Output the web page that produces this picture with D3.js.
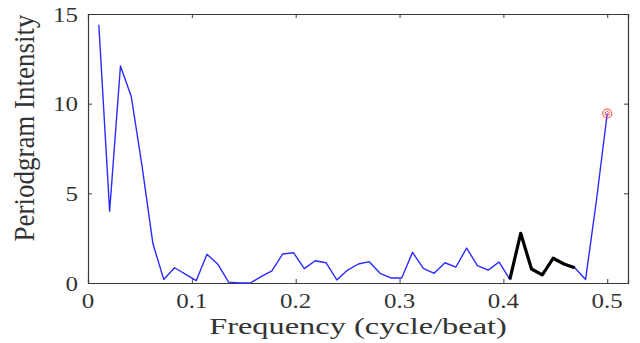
<!DOCTYPE html>
<html>
<head>
<meta charset="utf-8">
<script src="https://cdn.jsdelivr.net/npm/d3@7"></script>
<style>
  body { margin: 0; background: #fff; }
  svg { display: block; }
</style>
</head>
<body>
<div id="chart"></div>
<script>
// periodogram values, one per frequency bin k/96 (k = 1..48)
const binCount = 96;
const intensity = [
  14.4, 4.0, 12.1, 10.4, 6.5, 2.2, 0.2, 0.85, 0.5, 0.13,
  1.6, 1.05, 0.05, 0.0, 0.0, 0.35, 0.68, 1.62, 1.69, 0.8,
  1.24, 1.13, 0.17, 0.72, 1.06, 1.19, 0.54, 0.28, 0.28, 1.71,
  0.82, 0.54, 1.13, 0.88, 1.95, 0.97, 0.72, 1.17, 0.2, 2.77,
  0.78, 0.45, 1.38, 1.06, 0.85, 0.2, 4.6, 9.45
];
const frequency = intensity.map((d, i) => (i + 1) / binCount);

// highlighted band (bins 39..45) and the peak marker (bin 48)
const bandStart = 39;
const bandEnd = 45;
const markerBin = 48;

const xTicks = [0, 0.1, 0.2, 0.3, 0.4, 0.5];
const yTicks = [0, 5, 10, 15];
const xLabel = 'Frequency (cycle/beat)';
const yLabel = 'Periodgram Intensity';

const width = 640;
const height = 343;
const margin = { top: 14, right: 12, bottom: 60, left: 88 };
const innerW = width - margin.left - margin.right;
const innerH = height - margin.top - margin.bottom;

const points = frequency.map((f, i) => ({ k: i + 1, f: f, v: intensity[i] }));

const x = d3.scaleLinear().domain([0, 0.52]).range([0, innerW]);
const y = d3.scaleLinear().domain([0, 15]).range([innerH, 0]);

const svg = d3
  .select('#chart')
  .append('svg')
  .attr('width', width)
  .attr('height', height);

const g = svg
  .append('g')
  .attr('transform', 'translate(' + margin.left + ',' + margin.top + ')');

const axisColor = '#3a3a3a';
const textColor = '#333';
const serif = '"Liberation Serif", "Times New Roman", serif';
// the source figure is stretched sideways, so text gets a horizontal scale
const stretch = 1.25;

// axes: ticks point inward, like a boxed matlab plot
const xAxis = g
  .append('g')
  .attr('transform', 'translate(0,' + innerH + ')')
  .call(d3.axisBottom(x).tickValues(xTicks).tickSize(-4).tickFormat(''));

const xTop = g
  .append('g')
  .call(d3.axisTop(x).tickValues(xTicks).tickSize(-4).tickFormat(''));

const yAxis = g
  .append('g')
  .call(d3.axisLeft(y).tickValues(yTicks).tickSize(-4).tickFormat(''));

const yRight = g
  .append('g')
  .attr('transform', 'translate(' + innerW + ',0)')
  .call(d3.axisRight(y).tickValues(yTicks).tickSize(-4).tickFormat(''));

[xAxis, xTop, yAxis, yRight].forEach((a) => {
  a.select('.domain').attr('stroke', axisColor).attr('stroke-width', 1.2);
  a.selectAll('.tick line').attr('stroke', axisColor);
});

// tick labels, drawn by hand so they can carry the stretch
g.selectAll('.xlab')
  .data(xTicks)
  .join('text')
  .attr('class', 'xlab')
  .attr('transform', (d) => 'translate(' + x(d) + ',' + (innerH + 25) + ') scale(' + stretch + ',1)')
  .attr('text-anchor', 'middle')
  .attr('fill', textColor)
  .style('font-family', serif)
  .style('font-size', '20px')
  .text((d) => d3.format('')(d));

g.selectAll('.ylab')
  .data(yTicks)
  .join('text')
  .attr('class', 'ylab')
  .attr('transform', (d) => 'translate(-10,' + (y(d) + 7.5) + ') scale(' + stretch + ',1)')
  .attr('text-anchor', 'end')
  .attr('fill', textColor)
  .style('font-family', serif)
  .style('font-size', '20px')
  .text((d) => d);

// main blue spectrum
const line = d3
  .line()
  .x((d) => x(d.f))
  .y((d) => y(d.v));

g.append('path')
  .datum(points)
  .attr('fill', 'none')
  .attr('stroke', '#2b2bff')
  .attr('stroke-width', 1.4)
  .attr('stroke-linejoin', 'round')
  .attr('d', line);

// thick black band on top
g.append('path')
  .datum(points.filter((d) => d.k >= bandStart && d.k <= bandEnd))
  .attr('fill', 'none')
  .attr('stroke', '#000')
  .attr('stroke-width', 3.2)
  .attr('stroke-linejoin', 'round')
  .attr('d', line);

// red marker at the last bin
const mk = points.find((d) => d.k === markerBin);
g.append('circle')
  .attr('cx', x(mk.f))
  .attr('cy', y(mk.v))
  .attr('r', 4.5)
  .attr('fill', 'none')
  .attr('stroke', '#ff4d4d')
  .attr('stroke-width', 1.1);
g.append('circle')
  .attr('cx', x(mk.f))
  .attr('cy', y(mk.v))
  .attr('r', 2)
  .attr('fill', 'none')
  .attr('stroke', '#ff4d4d')
  .attr('stroke-width', 1);

// axis titles
svg
  .append('text')
  .text(xLabel)
  .attr('transform', 'translate(' + (margin.left + innerW / 2) + ',334) scale(1.35,1)')
  .attr('text-anchor', 'middle')
  .attr('fill', textColor)
  .style('font-family', serif)
  .style('font-size', '24px');

svg
  .append('text')
  .text(yLabel)
  .attr('transform', 'translate(34,128) scale(1.12,1) rotate(-90)')
  .attr('text-anchor', 'middle')
  .attr('fill', textColor)
  .style('font-family', serif)
  .style('font-size', '27px');
</script>
</body>
</html>
